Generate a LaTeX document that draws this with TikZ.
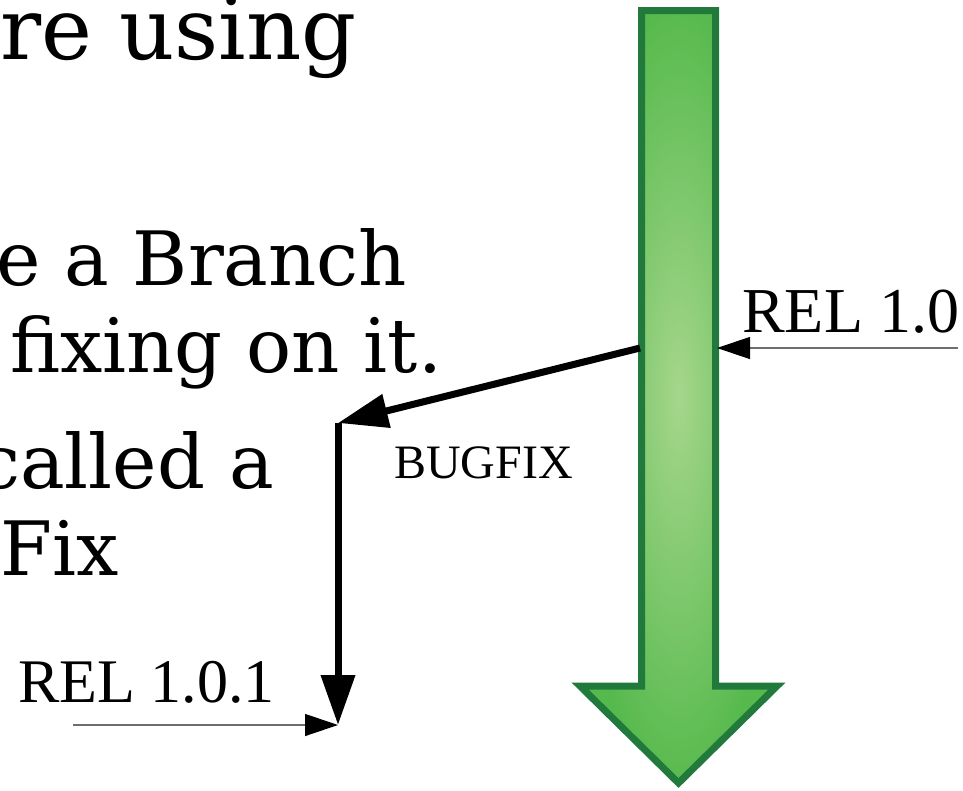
\documentclass[tikz,border=0pt]{standalone}
\usepackage{fontspec}
\setmainfont{DejaVu Serif}
\newfontfamily\labelfont{Liberation Serif}
\usetikzlibrary{arrows.meta}

\definecolor{trunkgreen}{RGB}{85,185,76}
\definecolor{trunklight}{RGB}{166,214,140}
\definecolor{trunkedge}{RGB}{33,122,60}
\definecolor{markergray}{RGB}{110,110,110}

% soft glow in the middle of the trunk arrow
\pgfdeclareradialshading{trunkglow}{\pgfpoint{0bp}{0bp}}{%
  color(0bp)=(trunklight); color(26bp)=(trunkgreen); color(50bp)=(trunkgreen)}

\tikzset{
  slidetext/.style={anchor=base west, inner sep=0pt, font=\fontsize{75}{87}\selectfont},
  titletext/.style={anchor=base west, inner sep=0pt, font=\fontsize{86}{100}\selectfont},
  tagtext/.style={anchor=base west, inner sep=0pt, font=\labelfont\fontsize{62}{70}\selectfont},
  smalltag/.style={anchor=base west, inner sep=0pt, font=\labelfont\fontsize{48}{54}\selectfont},
  trunk/.style={draw=trunkedge, line width=7pt, line join=miter, shading=trunkglow},
  branchline/.style={line width=7pt, line cap=butt},
  brancharrow/.style={branchline, -{Triangle[length=50pt,width=33pt]}},
  marker/.style={draw=markergray, line width=1.3pt, -{Triangle[length=33pt,width=22pt,color=black]}}
}

\begin{document}
\begin{tikzpicture}[x=1pt,y=-1pt]
  \useasboundingbox (0,0) rectangle (963,790);
  \clip (0,0) rectangle (963,790);

  % slide text
  \node[titletext] (title) at (0,59) {re using};
  \node[slidetext] (lineA) at (-4,285) {e a Branch};
  \node[slidetext] (lineB) at (10,372) {fixing on it.};
  \node[slidetext] (lineC) at (-22,488) {called a};
  \node[slidetext] (lineD) at (0,575) {Fix};

  % main line of development
  \path[trunk] (641.5,10.5) -- (715.5,10.5) -- (715.5,686) -- (777,686)
    -- (678.5,783) -- (580,686) -- (641.5,686) -- cycle;

  % points on the arrows
  \coordinate (trunkL) at (640,348);
  \coordinate (trunkR) at (717,348);
  \coordinate (branch) at (338,423);
  \coordinate (fixtip) at (338,725);
  \coordinate (relRfree) at (958,348);
  \coordinate (relLfree) at (73,725);

  % release labels
  \node[tagtext, font=\labelfont\fontsize{64}{70}\selectfont] (rel) at (742,332) {REL 1.0};
  \node[tagtext] (relfix) at (18,702) {REL 1.0.1};
  \node[smalltag] (bugfix) at (394,478) {BUGFIX};

  % bug-fix branch
  \draw[brancharrow] (trunkL) -- (branch);
  \draw[brancharrow] ([yshift=-0.1pt]branch) -- (fixtip);

  % release markers
  \draw[marker] (relRfree) -- (trunkR);
  \draw[marker] (relLfree) -- (fixtip);
\end{tikzpicture}
\end{document}
